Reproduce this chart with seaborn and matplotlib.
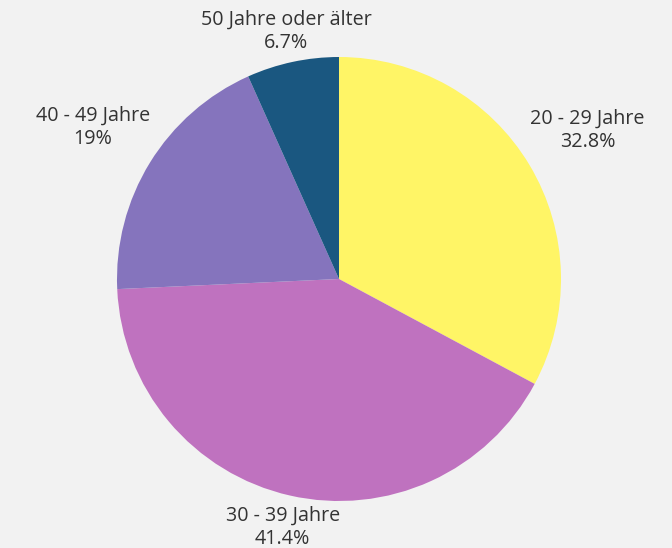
import numpy as np
import matplotlib
matplotlib.use("Agg")
import matplotlib.pyplot as plt
import seaborn as sns

categories = ["20 - 29 Jahre", "30 - 39 Jahre", "40 - 49 Jahre", "50 Jahre oder älter"]
shares = [32.8, 41.4, 19.0, 6.7]
share_labels = ["32.8%", "41.4%", "19%", "6.7%"]
colors = ["#fff566", "#bf72bf", "#8574bd", "#1a5780"]

sns.set_theme(style="white")
plt.rcParams["font.family"] = ["Open Sans", "DejaVu Sans"]

bg = "#f2f2f2"
fig = plt.figure(figsize=(6.72, 5.48), dpi=100, facecolor=bg)
ax = fig.add_axes([0, 0, 1, 1], facecolor=bg)

wedges, _ = ax.pie(shares, colors=colors, startangle=90, counterclock=False,
                   radius=1.0, wedgeprops=dict(linewidth=0))

# Outside labels: pushed further out on the sides so the text clears the rim
for w, cat, lab in zip(wedges, categories, share_labels):
    mid = np.deg2rad((w.theta1 + w.theta2) / 2)
    r = 1.09 + 0.25 * abs(np.cos(mid))
    ax.text(r * np.cos(mid), r * np.sin(mid), f"{cat}\n{lab}",
            ha="center", va="center", fontsize=14.2, color="#333333",
            linespacing=1.22)

ax.set_xlim(-339 / 222, (672 - 339) / 222)
ax.set_ylim(-269 / 222, 279 / 222)
ax.set_aspect("equal")
ax.axis("off")

fig.savefig("out.png", dpi=100, facecolor=bg)
